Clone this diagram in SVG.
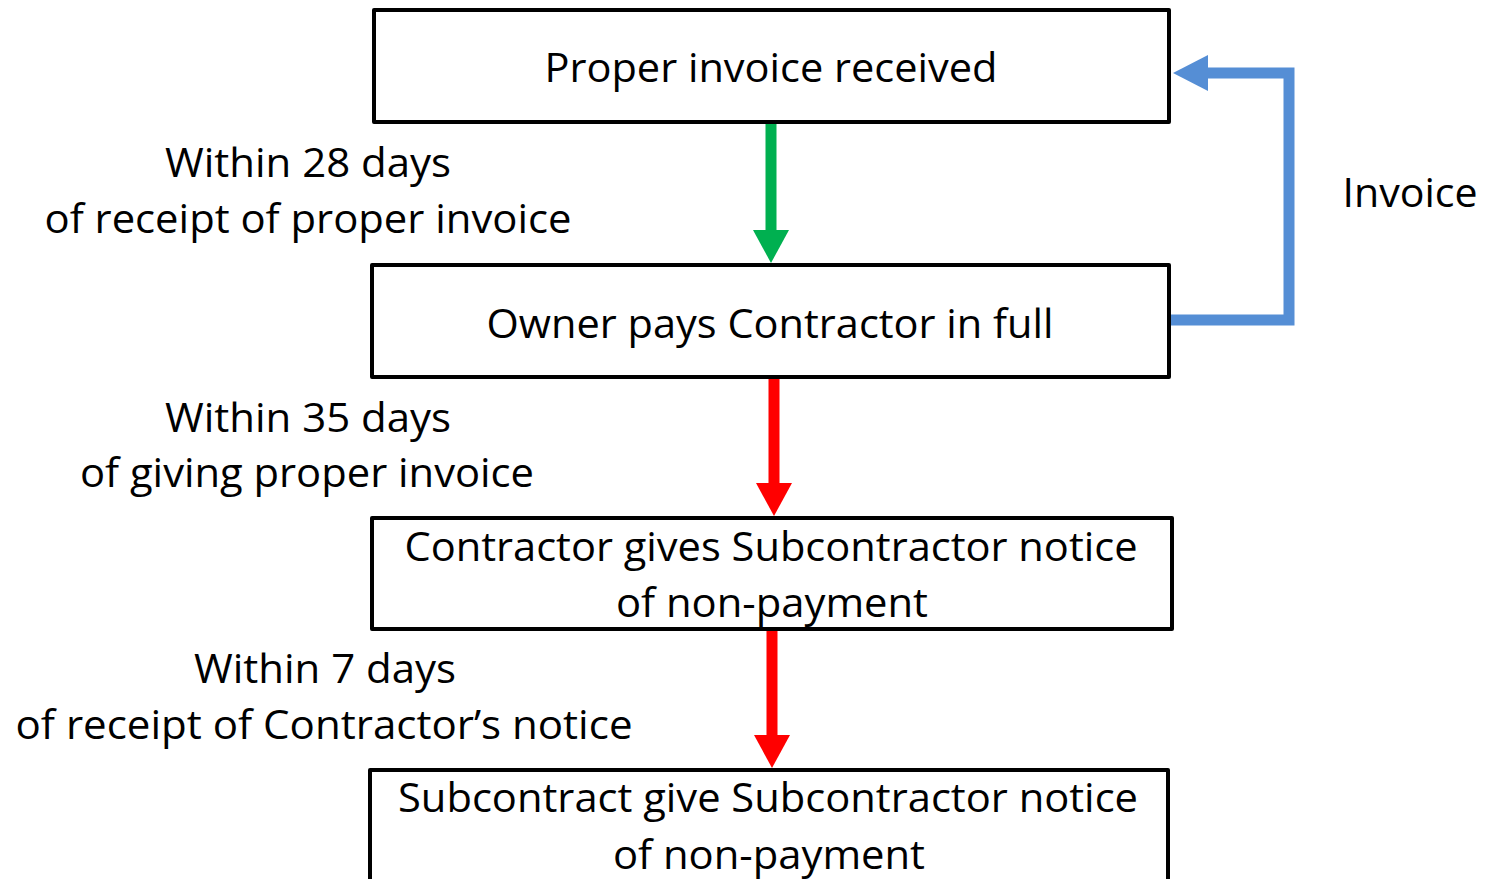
<svg xmlns="http://www.w3.org/2000/svg" width="1487" height="879" viewBox="0 0 1487 879">
  <style>
    .box { fill: #ffffff; stroke: #000000; stroke-width: 4; stroke-linejoin: round; }
    .txt { font-family: "Open Sans", "Noto Sans", "Liberation Sans", sans-serif; font-size: 40px; fill: #000000; text-anchor: middle; }
    .red { stroke: #ff0000; stroke-width: 11; fill: none; }
    .green { stroke: #00b050; stroke-width: 11; fill: none; }
    .blue { stroke: #558ed5; stroke-width: 11; fill: none; }
  </style>
  <defs>
    <!-- downward arrowhead, tip at origin -->
    <path id="headDown" d="M-18,-33 L18,-33 L0,0 Z"/>
  </defs>

  <!-- connectors -->
  <g id="connectors">
    <line class="green" x1="771" y1="124" x2="771" y2="232"/>
    <use href="#headDown" x="771" y="263" fill="#00b050"/>
    <line class="red" x1="774" y1="378" x2="774" y2="486"/>
    <use href="#headDown" x="774" y="516" fill="#ff0000"/>
    <line class="red" x1="772" y1="630" x2="772" y2="739"/>
    <use href="#headDown" x="772" y="768" fill="#ff0000"/>
    <polyline class="blue" points="1169,320 1289,320 1289,73 1206,73"/>
    <path d="M1208,55 L1173,73 L1208,91 Z" fill="#558ed5"/>
  </g>

  <!-- edge labels -->
  <g id="labels">
    <text class="txt" x="308" y="177" textLength="286" lengthAdjust="spacingAndGlyphs">Within 28 days</text>
    <text class="txt" x="308" y="233" textLength="527" lengthAdjust="spacingAndGlyphs">of receipt of proper invoice</text>
    <text class="txt" x="308" y="432" textLength="286" lengthAdjust="spacingAndGlyphs">Within 35 days</text>
    <text class="txt" x="307" y="487" textLength="454" lengthAdjust="spacingAndGlyphs">of giving proper invoice</text>
    <text class="txt" x="325" y="683" textLength="262" lengthAdjust="spacingAndGlyphs">Within 7 days</text>
    <text class="txt" x="324" y="739" textLength="617" lengthAdjust="spacingAndGlyphs">of receipt of Contractor’s notice</text>
    <text class="txt" x="1410" y="207" textLength="135" lengthAdjust="spacingAndGlyphs">Invoice</text>
  </g>

  <g id="node-invoice-received">
    <rect class="box" x="374" y="10" width="795" height="112"/>
    <text class="txt" x="771" y="82" textLength="453" lengthAdjust="spacingAndGlyphs">Proper invoice received</text>
  </g>

  <g id="node-owner-pays">
    <rect class="box" x="372" y="265" width="797" height="112"/>
    <text class="txt" x="770" y="338" textLength="567" lengthAdjust="spacingAndGlyphs">Owner pays Contractor in full</text>
  </g>

  <g id="node-contractor-notice">
    <rect class="box" x="372" y="518" width="800" height="111"/>
    <text class="txt" x="771" y="561" textLength="733" lengthAdjust="spacingAndGlyphs">Contractor gives Subcontractor notice</text>
    <text class="txt" x="772" y="617" textLength="312" lengthAdjust="spacingAndGlyphs">of non-payment</text>
  </g>

  <g id="node-subcontract-notice">
    <rect class="box" x="370" y="770" width="798" height="130"/>
    <text class="txt" x="768" y="812" textLength="740" lengthAdjust="spacingAndGlyphs">Subcontract give Subcontractor notice</text>
    <text class="txt" x="769" y="869" textLength="312" lengthAdjust="spacingAndGlyphs">of non-payment</text>
  </g>
</svg>
